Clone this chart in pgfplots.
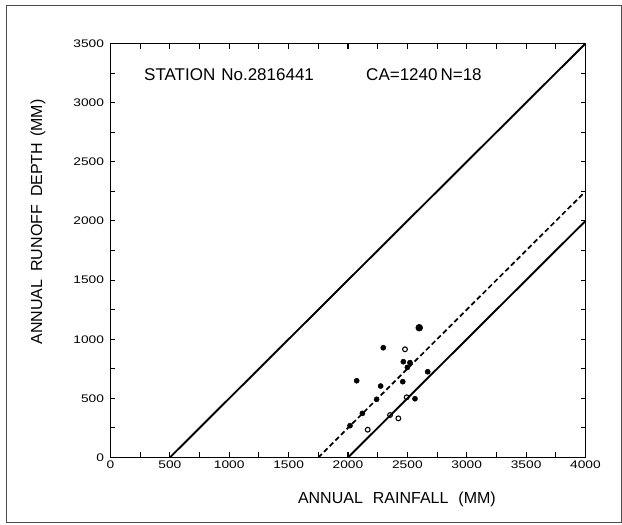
\documentclass[border=0pt]{standalone}
\usepackage{fontspec}
\setmainfont{Liberation Sans}
\newfontfamily\tickfont[FakeStretch=1.25]{Liberation Sans}
\usepackage{pgfplots}
\pgfplotsset{compat=1.18}
\begin{document}
\begin{tikzpicture}
\begin{axis}[
  at={(0,0)}, anchor=south west,
  scale only axis, width=475pt, height=414pt,
  xmin=0, xmax=4000, ymin=0, ymax=3500,
  xtick={0,500,...,4000}, ytick={0,500,...,3500},
  minor xtick={250,750,...,3750}, minor ytick={250,750,...,3250},
  tick align=inside, major tick length=5pt, minor tick length=5pt,
  every tick/.style={black, line width=1.1pt},
  axis line style={line width=1.8pt},
  /pgf/number format/assume math mode=true,
  /pgf/number format/set thousands separator={},
  ticklabel style={font=\tickfont\fontsize{11}{12}\selectfont},
  yticklabel style={xshift=-3pt},
  xlabel={ANNUAL\hspace{10pt}RAINFALL\hspace{10pt}(MM)},
  ylabel={ANNUAL\hspace{8pt}RUNOFF\hspace{8pt}DEPTH\hspace{6pt}(MM)},
  label style={font=\fontsize{16}{18}\selectfont},
  xlabel style={at={(axis description cs:0.603,-0.1002)}, anchor=center},
  ylabel style={at={(axis description cs:-0.1526,0.569)}, anchor=center},
  clip=false,
]
\addplot[black, line width=1.9pt] coordinates {(500,0) (4000,3500)};
\addplot[black, line width=1.9pt] coordinates {(2000,0) (4000,2000)};
\addplot[black, line width=1.7pt, dash pattern=on 5pt off 3pt] coordinates {(1750,0) (4000,2250)};
% filled observations
\addplot[only marks, mark=*, mark size=2.6pt, black] coordinates {
(2297,928) (2466,810) (2522,802) (2500,762) (2671,725) (2073,649)
(2275,604) (2461,641) (2241,492) (2564,497) (2121,373) (2017,269)
};
\addplot[only marks, mark=*, mark size=3.5pt, black] coordinates {(2600,1097)};
% open observations
\addplot[only marks, mark=o, mark size=2.4pt, black, line width=1.1pt] coordinates {
(2480,915) (2494,509) (2166,235) (2354,359) (2424,331)
};
\node[anchor=west, inner sep=0pt, font=\fontsize{17}{19}\selectfont] at (rel axis cs:0.0705,0.924) {STATION\hspace{6pt}No.2816441};
\node[anchor=west, inner sep=0pt, font=\fontsize{17}{19}\selectfont] at (rel axis cs:0.538,0.924) {CA=1240\hspace{3pt}N=18};
\end{axis}
\draw[black!70, line width=0.8pt] (-104.5pt,-64.5pt) rectangle (510.5pt,452.5pt);
\pgfresetboundingbox
\useasboundingbox (-110.5pt,-67.5pt) rectangle (511.5pt,457.5pt);
\end{tikzpicture}
\end{document}
